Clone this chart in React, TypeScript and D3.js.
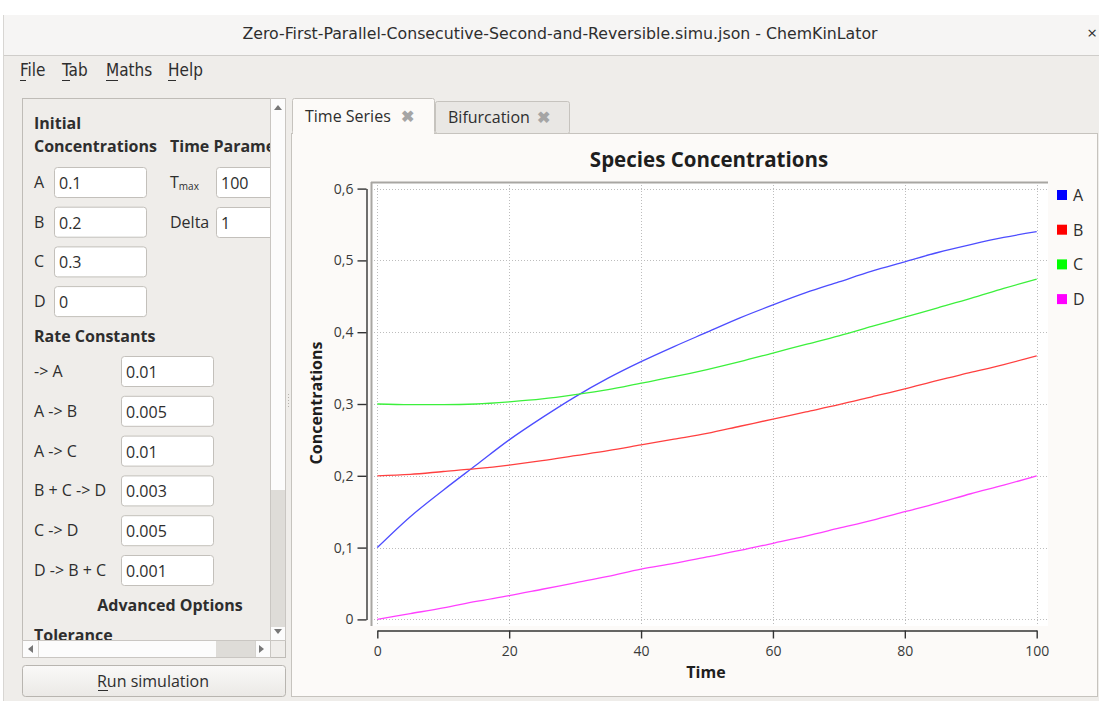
import React, { useEffect, useRef } from 'react';
import * as d3 from 'd3';

// simulation output, every 5 time units
const time = [0, 5, 10, 15, 20, 25, 30, 35, 40, 45, 50, 55, 60, 65, 70, 75, 80, 85, 90, 95, 100];
const concA = [0.1, 0.143, 0.18, 0.215, 0.25, 0.281, 0.31, 0.336, 0.359, 0.38, 0.4, 0.42, 0.438, 0.455, 0.47, 0.485, 0.498, 0.511, 0.522, 0.532, 0.54];
const concB = [0.2, 0.202, 0.206, 0.21, 0.215, 0.221, 0.228, 0.235, 0.243, 0.251, 0.259, 0.269, 0.279, 0.289, 0.299, 0.31, 0.321, 0.333, 0.344, 0.355, 0.367];
const concC = [0.3, 0.299, 0.299, 0.3, 0.303, 0.307, 0.313, 0.32, 0.329, 0.338, 0.348, 0.359, 0.371, 0.383, 0.395, 0.408, 0.421, 0.434, 0.447, 0.461, 0.474];
const concD = [0, 0.008, 0.016, 0.025, 0.033, 0.042, 0.051, 0.06, 0.07, 0.078, 0.087, 0.096, 0.106, 0.116, 0.127, 0.138, 0.15, 0.162, 0.175, 0.187, 0.2];

const species = ['A', 'B', 'C', 'D'];
const speciesColors = ['#0000ff', '#ff0000', '#00ff00', '#ff00ff'];
const lineColors = ['#4d4dff', '#ff4040', '#3cf03c', '#ff40ff'];

const xTicks = [0, 20, 40, 60, 80, 100];
const yTicks = [0, 0.1, 0.2, 0.3, 0.4, 0.5, 0.6];

const initialRows = [['A', '0.1'], ['B', '0.2'], ['C', '0.3'], ['D', '0']];
const rateRows = [['-> A', '0.01'], ['A -> B', '0.005'], ['A -> C', '0.01'], ['B + C -> D', '0.003'], ['C -> D', '0.005'], ['D -> B + C', '0.001']];

const uiFont = '"Open Sans", "Noto Sans", sans-serif';
const condFont = '"DejaVu Sans Condensed", "Liberation Sans Narrow", "Open Sans", sans-serif';

function Input({ x, y, w, value }: { x: number; y: number; w: number; value: string }) {
  return (
    <g>
      <rect x={x + 0.5} y={y + 0.5} width={w} height={30} rx={3} fill="#fff" stroke="#c3c0bb" />
      <text x={x + 5} y={y + 22} fontSize={16} fill="#2e2e2e">{value}</text>
    </g>
  );
}

function Chart() {
  const gRef = useRef<SVGGElement>(null);

  useEffect(() => {
    const g = d3.select(gRef.current);
    g.selectAll('*').remove();

    const x = d3.scaleLinear().domain([0, 100]).range([377.3, 1036.7]);
    const y = d3.scaleLinear().domain([0, 0.6]).range([619.4, 188.6]);
    const fmt = (d: number) => (d === 0 ? '0' : d.toFixed(1).replace('.', ','));

    // canvas
    g.append('rect').attr('x', 371).attr('y', 182).attr('width', 677).attr('height', 444).attr('fill', '#fff');
    g.append('line').attr('x1', 371).attr('x2', 1048).attr('y1', 182.5).attr('y2', 182.5).attr('stroke', '#a8a6a2').attr('stroke-width', 2);
    g.append('line').attr('x1', 371.5).attr('x2', 371.5).attr('y1', 182).attr('y2', 626).attr('stroke', '#a8a6a2').attr('stroke-width', 2);

    // grid
    const grid = g.append('g').attr('stroke', '#bdbdbd').attr('stroke-dasharray', '1,2').attr('stroke-width', 1);
    grid.selectAll('.h').data(yTicks).enter().append('line')
      .attr('x1', 374).attr('x2', 1047).attr('y1', d => Math.round(y(d)) + 0.5).attr('y2', d => Math.round(y(d)) + 0.5);
    grid.selectAll('.v').data(xTicks).enter().append('line')
      .attr('y1', 185).attr('y2', 625).attr('x1', d => Math.round(x(d)) + 0.5).attr('x2', d => Math.round(x(d)) + 0.5);

    // series
    const allSeries = [concA, concB, concC, concD];
    const line = d3.line<number>().x((d, i) => x(time[i])).y(d => y(d)).curve(d3.curveMonotoneX);
    g.selectAll('.series').data(allSeries).enter().append('path')
      .attr('d', d => line(d))
      .attr('fill', 'none')
      .attr('stroke', (d, i) => lineColors[i])
      .attr('stroke-width', 1.3);

    // y axis
    const yAxis = g.append('g').attr('transform', 'translate(366.5,0)');
    yAxis.call(d3.axisLeft(y).tickValues(d3.range(0, 0.601, 0.02)).tickSize(5).tickFormat(() => '').tickSizeOuter(0));
    yAxis.call(d3.axisLeft(y).tickValues(yTicks).tickSize(9).tickPadding(4).tickFormat(d => fmt(+d)).tickSizeOuter(0));
    yAxis.selectAll('path, line').attr('stroke', '#333').attr('stroke-width', 1.4);
    yAxis.selectAll('text').attr('font-family', uiFont).attr('font-size', 14).attr('fill', '#3a3a3a');

    // x axis
    const xAxis = g.append('g').attr('transform', 'translate(0,630.5)');
    xAxis.call(d3.axisBottom(x).tickValues(d3.range(0, 101, 5)).tickSize(4).tickFormat(() => '').tickSizeOuter(0));
    xAxis.call(d3.axisBottom(x).tickValues(xTicks).tickSize(8).tickPadding(8).tickFormat(d => String(d)).tickSizeOuter(0));
    xAxis.selectAll('path, line').attr('stroke', '#333').attr('stroke-width', 1.4);
    xAxis.selectAll('text').attr('font-family', uiFont).attr('font-size', 14).attr('fill', '#3a3a3a');

    // titles
    g.append('text').attr('x', 709).attr('y', 167).attr('text-anchor', 'middle')
      .attr('font-family', uiFont).attr('font-weight', 'bold').attr('font-size', 20.5).attr('fill', '#1e1e1e')
      .text('Species Concentrations');
    g.append('text').attr('x', 706).attr('y', 678).attr('text-anchor', 'middle')
      .attr('font-family', uiFont).attr('font-weight', 'bold').attr('font-size', 16).attr('fill', '#1e1e1e')
      .text('Time');
    g.append('text').attr('transform', 'translate(322,403) rotate(-90)').attr('text-anchor', 'middle')
      .attr('font-family', uiFont).attr('font-weight', 'bold').attr('font-size', 16).attr('fill', '#1e1e1e')
      .text('Concentrations');

    // legend
    const legend = g.selectAll('.leg').data(species).enter().append('g')
      .attr('transform', (d, i) => `translate(1057,${190 + i * 34.7})`);
    legend.append('rect').attr('width', 10).attr('height', 10).attr('fill', (d, i) => speciesColors[i]);
    legend.append('text').attr('x', 16).attr('y', 11).attr('font-family', uiFont).attr('font-size', 16)
      .attr('fill', '#2e2e2e').text(d => d);
  }, []);

  return <g ref={gRef} />;
}

export default function App() {
  return (
    <svg width={1099} height={701} style={{ position: 'fixed', left: 0, top: 0 }} fontFamily={uiFont}>
      <defs>
        <clipPath id="panelClip"><rect x={23} y={99} width={247} height={541} /></clipPath>
        <linearGradient id="btnGrad" x1="0" x2="0" y1="0" y2="1">
          <stop offset="0" stopColor="#faf9f8" />
          <stop offset="1" stopColor="#ebe9e6" />
        </linearGradient>
      </defs>
      <rect width={1099} height={701} fill="#ffffff" />
      {/* window */}
      <rect x={3} y={15} width={1096} height={686} fill="#efedea" />
      <rect x={3} y={15} width={1096} height={40} fill="#f6f5f4" />
      <line x1={3} x2={1099} y1={55.5} y2={55.5} stroke="#cfcdca" />
      <line x1={3.5} x2={3.5} y1={15} y2={701} stroke="#d8d6d3" />
      <text x={560} y={39} textAnchor="middle" fontFamily={condFont} fontSize={16.5} fill="#2e2e2e" textLength={635} lengthAdjust="spacingAndGlyphs">
        Zero-First-Parallel-Consecutive-Second-and-Reversible.simu.json - ChemKinLator
      </text>
      <text x={1092} y={39} textAnchor="middle" fontSize={17} fill="#2e2e2e">×</text>
      {/* menu */}
      {[['File', 20, 27], ['Tab', 62, 71], ['Maths', 106, 119], ['Help', 168, 177]].map(([label, mx, ux]) => (
        <g key={label as string}>
          <text x={mx as number} y={76} fontFamily={condFont} fontSize={17} fill="#2e2e2e">{label}</text>
          <line x1={mx as number} x2={(ux as number) - 1} y1={80.5} y2={80.5} stroke="#2e2e2e" />
        </g>
      ))}

      {/* left panel */}
      <rect x={22.5} y={98.5} width={263} height={559} fill="#efedea" stroke="#bfbcb7" />
      <g clipPath="url(#panelClip)" fill="#2e2e2e">
        <text x={34} y={129} fontSize={16} fontWeight="bold">Initial</text>
        <text x={34} y={152} fontSize={16} fontWeight="bold">Concentrations</text>
        <text x={170} y={152} fontSize={16} fontWeight="bold">Time Parameters</text>
        {initialRows.map(([label, value], i) => (
          <g key={label}>
            <text x={34} y={188 + i * 39.7} fontSize={16}>{label}</text>
            <Input x={54} y={167 + i * 39.7} w={92} value={value} />
          </g>
        ))}
        <text x={170} y={188} fontSize={16}>T<tspan fontSize={10} dy={2}>max</tspan></text>
        <Input x={216} y={167} w={90} value="100" />
        <text x={170} y={228} fontSize={16}>Delta</text>
        <Input x={216} y={207} w={90} value="1" />
        <text x={34} y={342} fontSize={16} fontWeight="bold">Rate Constants</text>
        {rateRows.map(([label, value], i) => (
          <g key={label}>
            <text x={34} y={377 + i * 39.8} fontSize={16}>{label}</text>
            <Input x={121} y={356 + i * 39.8} w={92} value={value} />
          </g>
        ))}
        <text x={170} y={611} textAnchor="middle" fontSize={16} fontWeight="bold">Advanced Options</text>
        <text x={34} y={641} fontSize={16} fontWeight="bold">Tolerance</text>
      </g>
      {/* vertical scrollbar */}
      <rect x={270.5} y={98.5} width={15} height={542} fill="#fcfcfc" stroke="#c9c6c2" />
      <rect x={271} y={490} width={14} height={137} fill="#dedcd8" />
      <path d="M274,110 L278,105 L282,110 Z" fill="#777" />
      <path d="M274,629 L278,634 L282,629 Z" fill="#777" />
      {/* horizontal scrollbar */}
      <rect x={22.5} y={640.5} width={248} height={17} fill="#fcfcfc" stroke="#c9c6c2" />
      <rect x={216} y={641} width={39} height={16} fill="#dedcd8" />
      <line x1={38.5} x2={38.5} y1={641} y2={657} stroke="#d5d3cf" />
      <line x1={255.5} x2={255.5} y1={641} y2={657} stroke="#d5d3cf" />
      <path d="M33,645 L28,649 L33,653 Z" fill="#777" />
      <path d="M259,645 L264,649 L259,653 Z" fill="#777" />
      {/* splitter dots */}
      {[0, 1, 2, 3, 4].map(i => <rect key={i} x={288} y={394 + i * 3} width={1} height={1} fill="#b5b2ad" />)}
      {/* run button */}
      <rect x={22.5} y={665.5} width={263} height={31} rx={3} fill="url(#btnGrad)" stroke="#b8b5b0" />
      <text x={153} y={687} textAnchor="middle" fontSize={16} fill="#2e2e2e">Run simulation</text>
      <line x1={98} x2={108} y1={690.5} y2={690.5} stroke="#2e2e2e" />

      {/* tab widget */}
      <rect x={291.5} y={133.5} width={806} height={563} fill="#fcfaf8" stroke="#c6c3be" />
      <rect x={435.5} y={101.5} width={134} height={32} rx={2} fill="#e9e7e4" stroke="#c6c3be" />
      <text x={448} y={123} fontSize={16} fill="#2e2e2e">Bifurcation</text>
      <text x={543} y={123} textAnchor="middle" fontSize={16} fontWeight="bold" fill="#a5a5a5">✖</text>
      <rect x={292.5} y={98.5} width={142} height={35} rx={2} fill="#fcfaf8" stroke="#c6c3be" />
      <rect x={293} y={130} width={141} height={6} fill="#fcfaf8" />
      <text x={305} y={122} fontSize={16} fill="#2e2e2e">Time Series</text>
      <text x={407} y={122} textAnchor="middle" fontSize={16} fontWeight="bold" fill="#a5a5a5">✖</text>

      <Chart />
    </svg>
  );
}
